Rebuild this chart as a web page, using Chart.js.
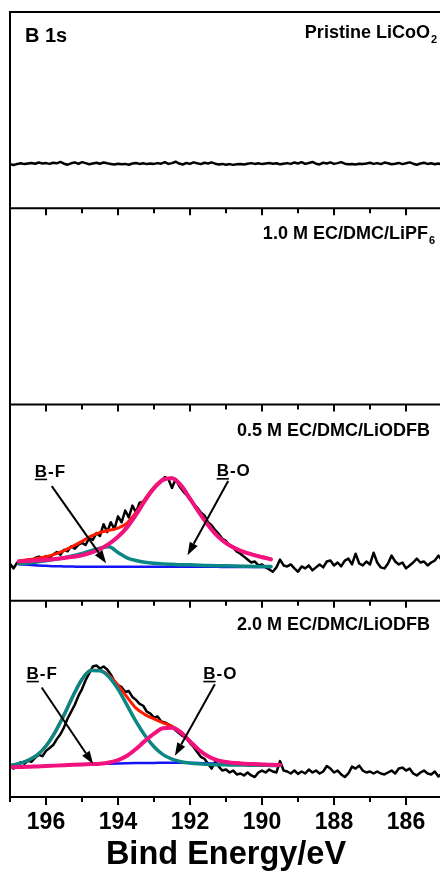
<!DOCTYPE html>
<html>
<head>
<meta charset="utf-8">
<title>B 1s XPS</title>
<script src="https://cdn.jsdelivr.net/npm/chart.js@4.4.1/dist/chart.umd.min.js"></script>
<style>
  html, body { margin: 0; padding: 0; background: #fff; overflow: hidden; }
  #wrap { width: 443px; height: 881px; }
</style>
</head>
<body>
<div id="wrap"><canvas id="xps" width="443" height="881"></canvas></div>
<script>
const FONT = "'Liberation Sans', Arial, Helvetica, sans-serif";

// binding energy of the measured spectra (eV), 0.1 eV steps
const energy = [
  197.0, 196.9, 196.8, 196.7, 196.6, 196.5, 196.4, 196.3, 196.2, 196.1,
  196.0, 195.9, 195.8, 195.7, 195.6, 195.5, 195.4, 195.3, 195.2, 195.1,
  195.0, 194.9, 194.8, 194.7, 194.6, 194.5, 194.4, 194.3, 194.2, 194.1,
  194.0, 193.9, 193.8, 193.7, 193.6, 193.5, 193.4, 193.3, 193.2, 193.1,
  193.0, 192.9, 192.8, 192.7, 192.6, 192.5, 192.4, 192.3, 192.2, 192.1,
  192.0, 191.9, 191.8, 191.7, 191.6, 191.5, 191.4, 191.3, 191.2, 191.1,
  191.0, 190.9, 190.8, 190.7, 190.6, 190.5, 190.4, 190.3, 190.2, 190.1,
  190.0, 189.9, 189.8, 189.7, 189.6, 189.5, 189.4, 189.3, 189.2, 189.1,
  189.0, 188.9, 188.8, 188.7, 188.6, 188.5, 188.4, 188.3, 188.2, 188.1,
  188.0, 187.9, 187.8, 187.7, 187.6, 187.5, 187.4, 187.3, 187.2, 187.1,
  187.0, 186.9, 186.8, 186.7, 186.6, 186.5, 186.4, 186.3, 186.2, 186.1,
  186.0, 185.9, 185.8, 185.7, 185.6, 185.5, 185.4, 185.3, 185.2, 185.1,
  185.0
];

// energies of the fitted curves
const fitEnergy05 = [196.75, 196.5, 196.25, 196, 195.75, 195.5, 195.25, 195, 194.75, 194.5,
  194.25, 194, 193.75, 193.5, 193.25, 193, 192.75, 192.5, 192.25, 192,
  191.75, 191.5, 191.25, 191, 190.75, 190.5, 190.25, 190, 189.75];
const fitEnergy20 = [197, 196.75, 196.5, 196.25, 196, 195.75, 195.5, 195.25, 195, 194.75,
  194.5, 194.25, 194, 193.75, 193.5, 193.25, 193, 192.75, 192.5, 192.25,
  192, 191.75, 191.5, 191.25, 191, 190.75, 190.5, 190.25, 190, 189.75, 189.5];

// intensities (arb. units, each panel 0-100)
const pristineSignal = [
  22.4, 22.0, 22.6, 22.9, 22.5, 22.8, 23.1, 22.7, 23.3, 22.8,
  23.0, 22.6, 23.2, 22.9, 23.6, 22.7, 22.2, 22.9, 23.4, 22.6,
  23.5, 23.0, 22.4, 22.8, 23.2, 22.7, 23.3, 22.9, 22.6, 22.3,
  22.7, 22.4, 22.6, 22.2, 22.8, 23.1, 22.6, 22.9, 22.5, 22.8,
  22.6, 23.0, 22.7, 23.5, 22.6, 23.0, 23.7, 22.8, 22.3, 23.1,
  22.6, 23.4, 22.9, 22.5, 23.2, 22.8, 23.4, 22.7, 22.3, 22.6,
  22.2, 22.5, 22.1, 22.4, 22.6, 22.3, 22.7, 23.0, 22.6, 22.9,
  22.5, 22.8, 23.1, 22.7, 22.9, 22.4, 22.7, 23.0, 22.6, 23.3,
  22.8, 23.5, 22.6, 23.1, 23.6, 22.7, 22.3, 23.2, 22.8, 23.4,
  22.6, 23.0, 23.5, 22.7, 22.4, 22.6, 22.3, 22.7, 22.5, 22.8,
  23.2, 22.6, 23.0, 22.5, 23.3, 22.9, 22.4, 22.7, 23.1, 22.5,
  22.9, 23.4, 22.7, 22.2, 22.8, 23.2, 22.6, 22.9, 22.4, 22.8,
  22.3
];

const odfb05Signal = [
  18.8, 16.5, 19.5, 20.5, 20.0, 21.0, 20.4, 21.8, 22.5, 21.6,
  22.8, 22.0, 23.6, 24.8, 23.5, 26.0, 25.2, 27.8, 26.5, 28.6,
  29.5, 28.4, 32.0, 31.0, 34.5, 33.0, 39.0, 35.0, 40.0, 36.5,
  43.0, 40.0, 46.0, 42.5, 48.5, 45.0, 50.0, 50.5, 53.0, 55.5,
  57.0, 59.5, 61.0, 63.0, 62.0, 57.5, 62.0, 58.5, 56.0, 54.0,
  51.5, 49.5, 47.5, 45.0, 43.5, 40.0, 38.5, 36.0, 34.0, 31.5,
  30.5, 28.0, 27.0, 25.0, 24.0, 22.5, 21.0, 19.5, 20.0, 18.0,
  18.5, 17.0, 16.0, 14.8, 17.0, 21.0, 18.0, 17.5, 18.5, 16.5,
  14.8, 17.5, 16.5, 18.0, 15.5, 17.0, 18.5, 17.0, 20.0, 20.5,
  18.0, 19.5, 17.5, 20.5, 21.5, 18.5, 24.0, 19.0, 18.0, 20.0,
  18.5, 24.5, 19.5, 17.0, 16.5, 19.0, 23.0, 20.0, 18.5, 19.5,
  16.5, 18.0, 19.5, 21.5, 19.5, 20.0, 18.0, 19.5, 20.5, 23.0,
  20.5
];
const odfb05Base = [18.6, 18.3, 18.0, 17.8, 17.6, 17.5, 17.4, 17.3, 17.3, 17.3,
  17.3, 17.3, 17.3, 17.3, 17.3, 17.3, 17.3, 17.3, 17.3, 17.3,
  17.3, 17.3, 17.3, 17.2, 17.2, 17.2, 17.2, 17.2, 17.2];
const odfb05BF = [18.9, 19.3, 19.8, 20.4, 21.1, 21.9, 22.9, 24.1, 25.5, 26.8,
  27.5, 24.6, 21.9, 20.5, 19.6, 19.1, 18.8, 18.6, 18.4, 18.3,
  18.1, 18.0, 17.9, 17.8, 17.7, 17.6, 17.5, 17.5, 17.4];
const odfb05BO = [20.0, 20.3, 20.6, 20.9, 21.3, 21.8, 22.4, 23.2, 24.5, 26.4,
  29.0, 32.6, 37.4, 43.8, 51.0, 57.3, 61.6, 62.4, 58.8, 52.0,
  45.0, 38.6, 33.2, 29.4, 26.8, 24.8, 23.4, 22.2, 21.1];
const odfb05Env = [20.4, 20.9, 21.5, 22.5, 23.8, 25.6, 27.8, 30.3, 32.9, 34.8,
  35.9, 37.0, 39.6, 45.0, 51.8, 57.8, 61.9, 62.6, 59.0, 52.2,
  45.2, 38.8, 33.4, 29.6, 27.0, 25.0, 23.6, 22.4, 21.3];

const odfb20Signal = [
  15.5, 14.5, 16.5, 17.8, 17.0, 18.5, 18.0, 20.0, 21.5, 20.8,
  23.5, 25.0, 26.5, 29.5, 32.0, 35.5, 40.0, 43.5, 47.0, 51.5,
  55.0, 59.5, 63.0, 66.5, 67.0, 65.5, 66.5, 65.0, 62.5, 59.0,
  57.0, 56.0, 53.5, 54.0, 51.0, 49.5, 47.5, 46.5, 43.5, 42.5,
  40.5, 41.0, 38.5, 38.0, 37.0, 36.0, 34.0, 32.5, 31.0, 30.0,
  27.5, 25.5, 23.0, 20.5, 19.5, 17.0, 14.5, 18.0, 15.5, 13.5,
  14.0, 12.5, 13.5, 11.5, 12.0, 11.0, 12.5, 11.0, 10.2, 12.5,
  13.5, 12.5, 14.0, 13.0, 12.5, 18.3, 13.5, 13.0, 12.0, 13.5,
  11.8, 13.0, 12.0, 14.0, 12.5, 13.5, 12.0, 13.0, 15.8, 14.5,
  12.5, 13.5, 11.5, 10.2, 12.0, 15.5, 14.5, 16.0, 13.5, 12.5,
  13.0, 12.0, 13.0, 12.0, 11.5, 12.5, 13.5, 12.0, 14.5, 15.0,
  13.5, 14.5, 12.0, 11.0, 12.5, 13.5, 12.0, 11.5, 13.0, 10.5,
  12.0
];
const odfb20Base = [15.2, 15.3, 15.4, 15.6, 15.8, 16.0, 16.2, 16.4, 16.6, 16.8,
  16.9, 17.0, 17.1, 17.2, 17.3, 17.4, 17.4, 17.5, 17.5, 17.5,
  17.4, 17.3, 17.2, 17.0, 16.9, 16.8, 16.7, 16.6, 16.5, 16.4, 16.3];
const odfb20BF = [16.0, 17.0, 18.7, 21.3, 26.0, 33.0, 41.8, 51.5, 60.0, 64.5,
  64.3, 61.2, 55.0, 46.8, 38.5, 31.3, 25.6, 21.6, 19.3, 18.0,
  17.3, 16.9, 16.7, 16.5, 16.4, 16.3, 16.3, 16.2, 16.2, 16.1, 16.1];
const odfb20BO = [15.2, 15.3, 15.4, 15.6, 15.8, 16.0, 16.2, 16.4, 16.6, 16.8,
  17.0, 17.6, 18.8, 21.0, 24.5, 28.6, 32.3, 35.0, 35.3, 32.8,
  28.3, 24.0, 20.8, 18.8, 17.8, 17.3, 17.0, 16.8, 16.6, 16.4, 16.3];
const odfb20Env = [16.0, 17.0, 18.7, 21.3, 26.0, 33.0, 41.8, 51.5, 60.0, 64.6,
  64.5, 62.0, 57.0, 51.0, 45.3, 42.0, 39.8, 37.8, 36.0, 33.2,
  28.5, 24.1, 20.9, 18.9, 17.8, 17.3, 17.0, 16.8, 16.6, 16.4, 16.3];

const panelIds = ['yPristine', 'yLiPF6', 'yOdfb05', 'yOdfb20'];
const panelTitles = ['Pristine LiCoO', '1.0 M EC/DMC/LiPF', '0.5 M EC/DMC/LiODFB', '2.0 M EC/DMC/LiODFB'];
const panelSubs = ['2', '6', '', ''];
const xTickLabels = [196, 194, 192, 190, 188, 186];

function pts(xs, ys) {
  return xs.map((x, i) => ({ x: x, y: ys[i] }));
}

function curve(xs, ys, axis, color, width, order, smooth) {
  return {
    data: pts(xs, ys),
    yAxisID: axis,
    borderColor: color,
    backgroundColor: color,
    borderWidth: width,
    borderCapStyle: 'round',
    borderJoinStyle: 'round',
    pointRadius: 0,
    fill: false,
    order: order,
    tension: smooth ? 0.4 : 0,
    cubicInterpolationMode: smooth ? 'monotone' : 'default'
  };
}

const SIGNAL = '#000000';
const BASE = '#1414f5';
const BF = '#0a8785';
const BO = '#f2127f';
const ENV = '#ff1a00';

// annotation positions in data units (energy, intensity)
const peakNotes = [
  { panel: 'yOdfb05', head: 'B', tail: '-F', at: [196.31, 63.1], from: [195.84, 58.4], to: [194.33, 19.1] },
  { panel: 'yOdfb05', head: 'B', tail: '-O', at: [191.26, 63.4], from: [190.94, 61.0], to: [192.07, 23.2] },
  { panel: 'yOdfb20', head: 'B', tail: '-F', at: [196.54, 60.1], from: [196.12, 55.8], to: [194.69, 16.8] },
  { panel: 'yOdfb20', head: 'B', tail: '-O', at: [191.63, 60.1], from: [191.31, 57.5], to: [192.42, 21.0] }
];

function arrow(ctx, x1, y1, x2, y2) {
  const ang = Math.atan2(y2 - y1, x2 - x1);
  const len = 13, half = 4.5;
  const bx = x2 - len * Math.cos(ang), by = y2 - len * Math.sin(ang);
  ctx.beginPath();
  ctx.moveTo(x1, y1);
  ctx.lineTo(bx, by);
  ctx.stroke();
  ctx.beginPath();
  ctx.moveTo(x2, y2);
  ctx.lineTo(bx + half * Math.sin(ang), by - half * Math.cos(ang));
  ctx.lineTo(bx - half * Math.sin(ang), by + half * Math.cos(ang));
  ctx.closePath();
  ctx.fill();
}

const panelDecor = {
  id: 'panelDecor',
  afterDraw(chart) {
    const { ctx, chartArea: area, scales } = chart;
    const xs = scales.x;
    ctx.save();
    ctx.strokeStyle = '#000';
    ctx.fillStyle = '#000';
    ctx.lineWidth = 2;

    // frames of the stacked panels
    ctx.beginPath();
    ctx.moveTo(area.left, area.top - 1);
    ctx.lineTo(area.left, area.bottom + 1);
    ctx.moveTo(area.right, area.top - 1);
    ctx.lineTo(area.right, area.bottom + 1);
    panelIds.forEach(id => {
      ctx.moveTo(area.left, scales[id].top);
      ctx.lineTo(area.right, scales[id].top);
    });
    ctx.moveTo(area.left, area.bottom);
    ctx.lineTo(area.right, area.bottom);
    ctx.stroke();

    // tick marks: inward on top of panels 2-4, outward below the bottom axis
    ctx.beginPath();
    xs.ticks.forEach(t => {
      const px = xs.getPixelForValue(t.value);
      const major = t.value % 2 === 0;
      panelIds.slice(1).forEach(id => {
        const top = scales[id].top;
        ctx.moveTo(px, top);
        ctx.lineTo(px, top + (major ? 7 : 5));
      });
      ctx.moveTo(px, area.bottom);
      ctx.lineTo(px, area.bottom + (major ? 8 : 5));
    });
    ctx.stroke();

    // panel titles (right aligned, with subscripts)
    const inset = [5, 7, 12, 12];
    const drop = [25.5, 30.5, 31, 29.5];
    ctx.textAlign = 'left';
    ctx.textBaseline = 'alphabetic';
    panelIds.forEach((id, i) => {
      const top = scales[id].top;
      ctx.font = 'bold 18px ' + FONT;
      const mainW = ctx.measureText(panelTitles[i]).width;
      ctx.font = 'bold 11px ' + FONT;
      const subW = panelSubs[i] ? ctx.measureText(panelSubs[i]).width + 1 : 0;
      const x0 = area.right - inset[i] - subW - mainW;
      ctx.font = 'bold 18px ' + FONT;
      ctx.fillText(panelTitles[i], x0, top + drop[i]);
      if (panelSubs[i]) {
        ctx.font = 'bold 11px ' + FONT;
        ctx.fillText(panelSubs[i], x0 + mainW + 1, top + drop[i] + 5);
      }
    });

    ctx.font = 'bold 20px ' + FONT;
    ctx.fillText('B 1s', area.left + 15, scales.yPristine.top + 29.7);

    // peak labels with arrows
    peakNotes.forEach(n => {
      const ys = scales[n.panel];
      const lx = xs.getPixelForValue(n.at[0]);
      const ly = ys.getPixelForValue(n.at[1]);
      ctx.font = 'bold 17px ' + FONT;
      ctx.letterSpacing = '1px';
      const wB = ctx.measureText(n.head).width;
      ctx.fillText(n.head, lx, ly);
      ctx.fillText(n.tail, lx + wB, ly);
      ctx.letterSpacing = '0px';
      ctx.lineWidth = 1.6;
      ctx.beginPath();
      ctx.moveTo(lx, ly + 2.5);
      ctx.lineTo(lx + wB - 1, ly + 2.5);
      ctx.stroke();
      ctx.lineWidth = 2;
      arrow(ctx,
        xs.getPixelForValue(n.from[0]), ys.getPixelForValue(n.from[1]),
        xs.getPixelForValue(n.to[0]), ys.getPixelForValue(n.to[1]));
    });
    ctx.restore();
  }
};

function panelScale(w) {
  return {
    type: 'linear',
    position: 'left',
    stack: 'panels',
    stackWeight: 1,
    weight: w,
    min: 0,
    max: 100,
    ticks: { display: false },
    grid: { display: false, drawTicks: false },
    border: { display: false }
  };
}

new Chart(document.getElementById('xps'), {
  type: 'line',
  data: {
    datasets: [
      curve(energy, pristineSignal, 'yPristine', SIGNAL, 2.5, 5, false),

      curve(energy, odfb05Signal, 'yOdfb05', SIGNAL, 2.5, 5, false),
      curve(fitEnergy05, odfb05Base, 'yOdfb05', BASE, 2.5, 4, true),
      curve(fitEnergy05, odfb05Env, 'yOdfb05', ENV, 3, 3, true),
      curve(fitEnergy05, odfb05BF, 'yOdfb05', BF, 3.5, 2, true),
      curve(fitEnergy05, odfb05BO, 'yOdfb05', BO, 4, 1, true),

      curve(energy, odfb20Signal, 'yOdfb20', SIGNAL, 2.5, 5, false),
      curve(fitEnergy20, odfb20Base, 'yOdfb20', BASE, 2.5, 4, true),
      curve(fitEnergy20, odfb20Env, 'yOdfb20', ENV, 3, 3, true),
      curve(fitEnergy20, odfb20BF, 'yOdfb20', BF, 3.5, 2, true),
      curve(fitEnergy20, odfb20BO, 'yOdfb20', BO, 4, 1, true)
    ]
  },
  options: {
    responsive: false,
    animation: false,
    events: [],
    layout: { padding: { left: 10, right: 1, top: 12, bottom: 6 } },
    plugins: { legend: { display: false }, tooltip: { enabled: false } },
    scales: {
      x: {
        type: 'linear',
        position: 'bottom',
        reverse: true,
        min: 185,
        max: 197,
        grid: { display: false, drawTicks: false },
        border: { display: false },
        ticks: {
          stepSize: 1,
          autoSkip: false,
          maxRotation: 0,
          padding: 0,
          color: '#000',
          font: { family: FONT, size: 23, weight: 'bold', lineHeight: 2.2 },
          callback: v => xTickLabels.includes(v) ? String(v) : ''
        },
        title: {
          display: true,
          text: 'Bind Energy/eV',
          color: '#000',
          font: { family: FONT, size: 32.5, weight: 'bold', lineHeight: 1.15 },
          padding: { top: -11.5, bottom: 1.5 }
        }
      },
      yPristine: panelScale(4),
      yLiPF6: panelScale(3),
      yOdfb05: panelScale(2),
      yOdfb20: panelScale(1)
    }
  },
  plugins: [panelDecor]
});
</script>
</body>
</html>
